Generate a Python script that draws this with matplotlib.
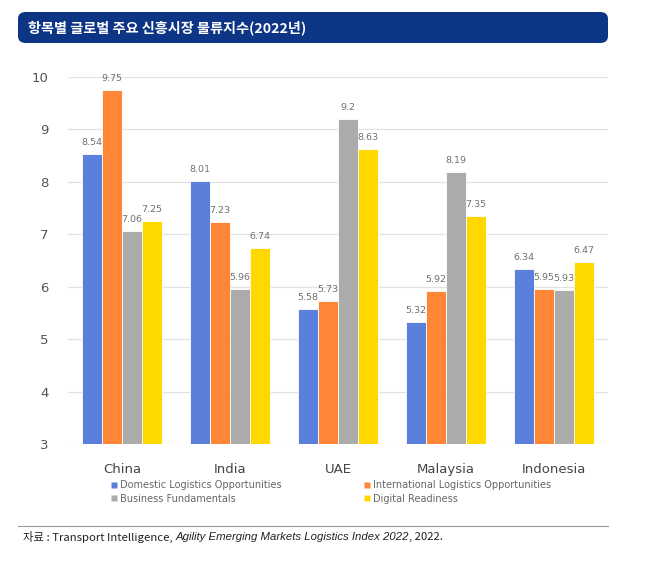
import matplotlib.pyplot as plt
import numpy as np
from matplotlib.patches import FancyBboxPatch
from matplotlib.lines import Line2D

countries = ["China", "India", "UAE", "Malaysia", "Indonesia"]
series_names = ["Domestic Logistics Opportunities", "International Logistics Opportunities",
                "Business Fundamentals", "Digital Readiness"]
domestic = [8.54, 8.01, 5.58, 5.32, 6.34]
international = [9.75, 7.23, 5.73, 5.92, 5.95]
business = [7.06, 5.96, 9.2, 8.19, 5.93]
digital = [7.25, 6.74, 8.63, 7.35, 6.47]
yticks = [3, 4, 5, 6, 7, 8, 9, 10]

colors = ["#5b80db", "#ff8636", "#ababab", "#ffd800"]
title = "항목별 글로벌 주요 신흥시장 물류지수(2022년)"

fig = plt.figure(figsize=(6.53, 5.63), dpi=100)
W, H = 653, 563

# title bar
bar = FancyBboxPatch((18 / W, (H - 43) / H), 590 / W, 31 / H,
                     boxstyle="round,pad=0,rounding_size=0.012",
                     transform=fig.transFigure, facecolor="#0c3586", edgecolor="none")
fig.patches.append(bar)
fig.text(28 / W, (H - 27.5) / H, title, color="white", fontsize=10.2, fontweight="bold",
         va="center", ha="left", family=["Noto Sans CJK KR", "DejaVu Sans"])

ax = fig.add_axes([68 / W, (H - 444) / H, 540 / W, 367 / H])
x = np.arange(len(countries))
w = 0.185
allvals = [domestic, international, business, digital]
for i, vals in enumerate(allvals):
    pos = x + (i - 1.5) * w
    bars = ax.bar(pos, vals, width=w, bottom=0, color=colors[i], edgecolor="white",
                  linewidth=0.6, label=series_names[i], zorder=3)
    for b, v in zip(bars, vals):
        ax.annotate(str(v), (b.get_x() + b.get_width() / 2, v), xytext=(0, 5),
                    textcoords="offset points", ha="center", va="bottom",
                    fontsize=6.8, color="#707070", clip_on=False)

ax.set_ylim(3, 10)
ax.set_xlim(-0.5, 4.5)
ax.set_yticks(yticks)
ax.set_yticklabels([str(t) for t in yticks], fontsize=9.5, color="#555555")
ax.set_xticks(x)
ax.set_xticklabels(countries, fontsize=9.5, color="#444444")
ax.tick_params(axis="both", length=0)
ax.tick_params(axis="y", pad=14)
ax.tick_params(axis="x", pad=14)
ax.grid(axis="y", color="#e2e2e2", linewidth=0.9, zorder=0)
for s in ax.spines.values():
    s.set_visible(False)

handles = [Line2D([], [], marker="s", linestyle="none", markersize=5,
                  markerfacecolor=c, markeredgecolor="none") for c in colors]
order = [0, 2, 1, 3]
fig.legend([handles[k] for k in order], [series_names[k] for k in order],
           ncol=2, loc="center left", bbox_to_anchor=(105 / W, (H - 492) / H),
           frameon=False, fontsize=7, labelcolor="#666666", handletextpad=0.1,
           handlelength=1.0, columnspacing=8.3, labelspacing=0.35, borderaxespad=0)

# source line and note
fig.add_artist(Line2D([18 / W, 608 / W], [(H - 526) / H, (H - 526) / H],
                      color="#999999", linewidth=0.8, transform=fig.transFigure))
fig.canvas.draw()
r = fig.canvas.get_renderer()
yy = (H - 537) / H
t1 = fig.text(23 / W, yy, "자료 : Transport Intelligence, ", fontsize=8.2, color="#222222",
              va="center", family=["Noto Sans CJK KR", "DejaVu Sans"])
x1 = t1.get_window_extent(r).x1 / W
t2 = fig.text(x1, yy, "Agility Emerging Markets Logistics Index 2022", fontsize=8.2,
              color="#222222", va="center", style="italic", family="Liberation Sans")
x2 = t2.get_window_extent(r).x1 / W
fig.text(x2, yy, ", 2022.", fontsize=8.2, color="#222222", va="center",
         family=["Noto Sans CJK KR", "DejaVu Sans"])

fig.savefig("out.png", dpi=100)
